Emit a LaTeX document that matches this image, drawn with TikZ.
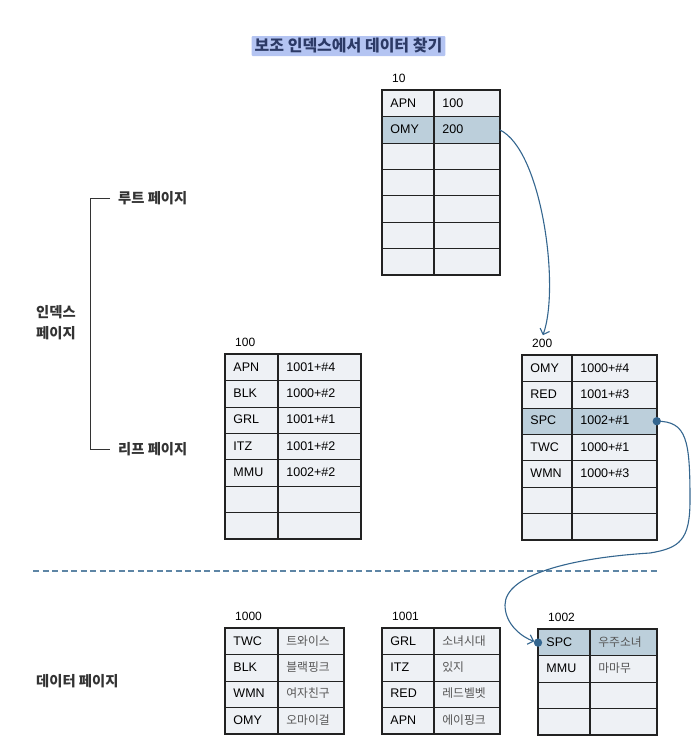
\documentclass[tikz,border=0pt]{standalone}
\usepackage{fontspec}
\setmainfont{Liberation Sans}
\newfontfamily\kr{Noto Sans CJK KR}
\usetikzlibrary{arrows.meta, positioning}

\definecolor{cellgray}{HTML}{EEF1F5}
\definecolor{rowhl}{HTML}{BCCFDB}
\definecolor{linkblue}{HTML}{34668F}
\definecolor{titlebg}{HTML}{B4C4F2}
\definecolor{titletext}{HTML}{2C3A66}
\definecolor{gridline}{HTML}{222222}
\definecolor{labeltext}{HTML}{333333}
\definecolor{valgray}{HTML}{555555}

\newcommand{\krv}{\kr\color{valgray}\fontsize{11.8}{13}\selectfont}

\tikzset{
  cell/.style={draw=gridline, line width=0.9pt, fill=cellgray, rectangle, anchor=north west,
    minimum height=26.3pt, inner xsep=8pt, inner ysep=0pt, text height=9pt, text depth=2pt,
    align=left, font=\fontsize{12.5}{14}\selectfont},
  pagelabel/.style={inner sep=2pt, font=\fontsize{12}{14}\selectfont},
  sidelabel/.style={inner sep=2pt, text=labeltext, font=\kr\bfseries\fontsize{14.3}{21}\selectfont},
  link/.style={draw=linkblue, line width=1.1pt, -{Straight Barb[length=5pt,width=10pt]}},
  divider/.style={draw=linkblue!80, line width=1.3pt, dash pattern=on 6pt off 3.5pt}
}

% \pagetab{name}{label}{x}{y}{key width}{value width}{highlighted row}{key/value list}
\newcommand{\pagetab}[8]{%
  \pgfmathsetlengthmacro\keytw{#5-16pt}%
  \pgfmathsetlengthmacro\valtw{#6-16pt}%
  \foreach \k/\v [count=\i] in {#8}{%
    \def\cellfill{cellgray}%
    \ifnum\i=#7 \def\cellfill{rowhl}\fi
    \node[cell, fill=\cellfill, text width=\keytw] (#1-k\i) at (#3, {#4+(\i-1)*26.3}) {\k};
    \node[cell, fill=\cellfill, text width=\valtw] (#1-v\i) at (#1-k\i.north east) {\v};
    \xdef\lastrow{\i}%
  }
  \draw[gridline, line width=1.7pt] (#1-k1.north west) rectangle (#1-v\lastrow.south east);
  \node[pagelabel, above right=5pt and 8pt of #1-k1.north west] (#1-lab) {#2};
}

\begin{document}
\begin{tikzpicture}[x=1pt, y=-1pt]
  \useasboundingbox (0,0) rectangle (698,755);

  % Title
  \node[fill=titlebg, text=titletext, font=\kr\bfseries\fontsize{16}{18}\selectfont,
    minimum height=20pt, inner xsep=3pt, inner ysep=1pt, rounded corners=1pt] (title) at (348.5,46) {보조 인덱스에서 데이터 찾기};

  % Side labels
  \node[sidelabel, anchor=west] (rootpage) at (116,198) {루트 페이지};
  \node[sidelabel, anchor=west] (leafpage) at (116,449) {리프 페이지};
  \node[sidelabel, align=left, anchor=west] (indexpage) at (34,323) {인덱스\\페이지};
  \node[sidelabel, anchor=west] (datapage) at (34,681) {데이터 페이지};
  \draw[labeltext, line width=1pt] ([xshift=-6pt]rootpage.west) -- ++(-20,0) |- ([xshift=-6pt]leafpage.west);

  % Index pages
  \pagetab{root}{10}{382}{90}{51pt}{65pt}{2}{APN/100, OMY/200, /, /, /, /, /}
  \pagetab{lfa}{100}{225}{354}{52pt}{82pt}{0}{APN/1001+\#4, BLK/1000+\#2, GRL/1001+\#1, ITZ/1001+\#2, MMU/1002+\#2, /, /}
  \pagetab{lfb}{200}{522}{355}{49pt}{84pt}{3}{OMY/1000+\#4, RED/1001+\#3, SPC/1002+\#1, TWC/1000+\#1, WMN/1000+\#3, /, /}

  % Divider
  \coordinate (dashL) at (33,571);
  \coordinate (dashR) at (657,571);
  \draw[divider] (dashL) -- (dashR);

  % Data pages
  \pagetab{dta}{1000}{225}{628}{52pt}{65pt}{0}{TWC/\krv 트와이스, BLK/\krv 블랙핑크, WMN/\krv 여자친구, OMY/\krv 오마이걸}
  \pagetab{dtb}{1001}{382}{628}{51pt}{65pt}{0}{GRL/\krv 소녀시대, ITZ/\krv 있지, RED/\krv 레드벨벳, APN/\krv 에이핑크}
  \pagetab{dtc}{1002}{538}{629}{51pt}{66pt}{1}{SPC/\krv 우주소녀, MMU/\krv 마마무, /, /}

  % Links
  \draw[link, shorten >=2pt] (root-v2.east) .. controls +(42,20) and +(18,-50) .. (lfb-lab.north);
  \coordinate (turnA) at (690,500);
  \coordinate (turnB) at (650,553);
  \coordinate (turnC) at (505,605);
  \draw[link, shorten >=4pt] (lfb-v3.east) .. controls +(30,0) and +(0,-60) .. (turnA)
    .. controls +(0,40) and +(30,-5) .. (turnB)
    .. controls +(-80,5) and +(0,-30) .. (turnC)
    .. controls +(0,20) and +(-15,-5) .. (dtc-k1.west);
  \fill[linkblue] (lfb-v3.east) circle (4.2pt);
  \fill[linkblue] (dtc-k1.west) circle (4.2pt);
\end{tikzpicture}
\end{document}
